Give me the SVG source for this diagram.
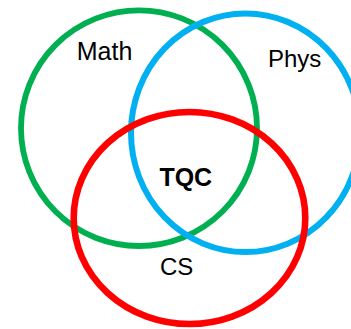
<svg xmlns="http://www.w3.org/2000/svg" width="351" height="329" viewBox="0 0 351 329">
<style>
.set{fill:none}
.lbl{font-family:"Liberation Sans",Arial,sans-serif;font-size:24px;fill:#000;text-anchor:middle}
.b{font-weight:bold;font-size:25px}
</style>
<rect width="351" height="329" fill="#fff"/>
<g id="math">
<ellipse class="set" cx="139" cy="128.2" rx="118" ry="117.8" stroke="#00B050" stroke-width="5.8"/>
<text class="lbl" x="104.5" y="60" style="font-size:25px">Math</text>
</g>
<g id="phys">
<ellipse class="set" cx="245.5" cy="132.8" rx="114.5" ry="119.3" stroke="#00B0F0" stroke-width="6"/>
<text class="lbl" x="294.7" y="67">Phys</text>
</g>
<g id="cs">
<ellipse class="set" cx="189.5" cy="218" rx="115.8" ry="106" stroke="#FF0000" stroke-width="6.6"/>
<text class="lbl" x="176.7" y="275">CS</text>
</g>
<g id="tqc">
<text class="lbl b" x="185.8" y="186">TQC</text>
</g>
<g id="connectors"></g>
</svg>
